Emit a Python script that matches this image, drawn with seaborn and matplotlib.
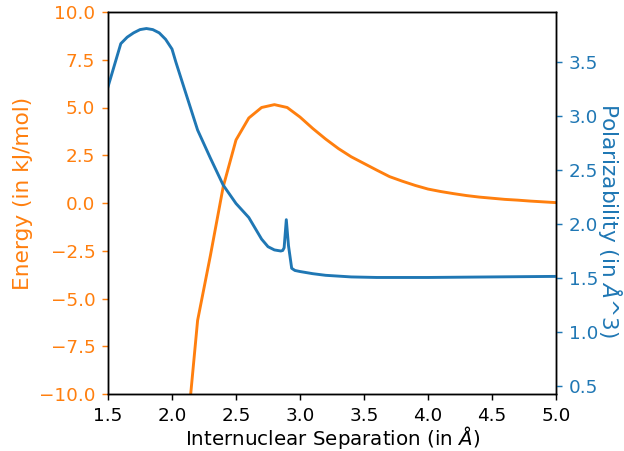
import numpy as np
import pandas as pd
import matplotlib
matplotlib.use("Agg")
import matplotlib.pyplot as plt
import seaborn as sns

# Energy curve (kJ/mol) vs internuclear separation (Å)
energy_x = [2.1, 2.2, 2.3, 2.4, 2.5, 2.6, 2.7, 2.8, 2.9, 3.0, 3.1, 3.2, 3.3, 3.4,
            3.5, 3.6, 3.7, 3.8, 3.9, 4.0, 4.1, 4.2, 4.3, 4.4, 4.5, 4.6, 4.7, 4.8,
            4.9, 5.0]
energy_y = [-13.3, -6.15, -2.75, 0.85, 3.3, 4.45, 5.0, 5.15, 5.0, 4.5, 3.9, 3.35,
            2.85, 2.42, 2.07, 1.72, 1.38, 1.14, 0.92, 0.73, 0.60, 0.49, 0.39, 0.31,
            0.25, 0.19, 0.15, 0.10, 0.06, 0.02]

# Polarizability curve (Å^3)
pol_x = [1.5, 1.6, 1.65, 1.7, 1.75, 1.8, 1.85, 1.9, 1.95, 2.0, 2.03, 2.1, 2.2,
         2.3, 2.4, 2.5, 2.6, 2.7, 2.75, 2.8, 2.85, 2.865, 2.876, 2.893, 2.91,
         2.935, 2.96, 3.0, 3.1, 3.2, 3.4, 3.6, 4.0, 4.5, 5.0]
pol_y = [3.27, 3.67, 3.73, 3.77, 3.80, 3.81, 3.80, 3.77, 3.71, 3.62, 3.50, 3.24,
         2.87, 2.61, 2.36, 2.19, 2.06, 1.86, 1.79, 1.76, 1.75, 1.755, 1.78, 2.04,
         1.80, 1.59, 1.57, 1.56, 1.54, 1.525, 1.51, 1.505, 1.505, 1.51, 1.515]

energy_df = pd.DataFrame({"sep": energy_x, "energy": energy_y})
pol_df = pd.DataFrame({"sep": pol_x, "pol": pol_y})

orange = "#ff7f0e"
blue = "#1f77b4"

plt.rcParams["font.size"] = 10.2

fig = plt.figure(figsize=(624 / 130, 451 / 130), dpi=130)
ax1 = fig.add_axes([108 / 624, 1 - 394 / 451, (556 - 108) / 624, (394 - 12) / 451])
ax2 = ax1.twinx()

sns.lineplot(data=energy_df, x="sep", y="energy", ax=ax1, color=orange,
             linewidth=1.6, sort=False)
sns.lineplot(data=pol_df, x="sep", y="pol", ax=ax2, color=blue,
             linewidth=1.6, sort=False)

ax1.set_xlim(1.5, 5.0)
ax1.set_ylim(-10, 10)
ax2.set_ylim(0.426, 3.963)
ax1.set_xticks([1.5, 2.0, 2.5, 3.0, 3.5, 4.0, 4.5, 5.0])
ax1.set_yticks([-10, -7.5, -5, -2.5, 0, 2.5, 5, 7.5, 10])
ax2.set_yticks([0.5, 1.0, 1.5, 2.0, 2.5, 3.0, 3.5])

ax1.set_xlabel(r"Internuclear Separation (in $\AA$)", fontsize=11)
ax1.set_ylabel("Energy (in kJ/mol)", color=orange, fontsize=12)
ax2.set_ylabel(r"Polarizability (in $\AA$^3)", color=blue, rotation=270,
               fontsize=12)
ax1.xaxis.set_label_coords(0.501, -0.079)
ax1.yaxis.set_label_coords(-0.167, 0.524)
ax2.yaxis.set_label_coords(1.1525, 0.455)

ax1.tick_params(axis="y", colors=orange)
ax2.tick_params(axis="y", colors=blue)

fig.savefig("out.png", dpi=130)
